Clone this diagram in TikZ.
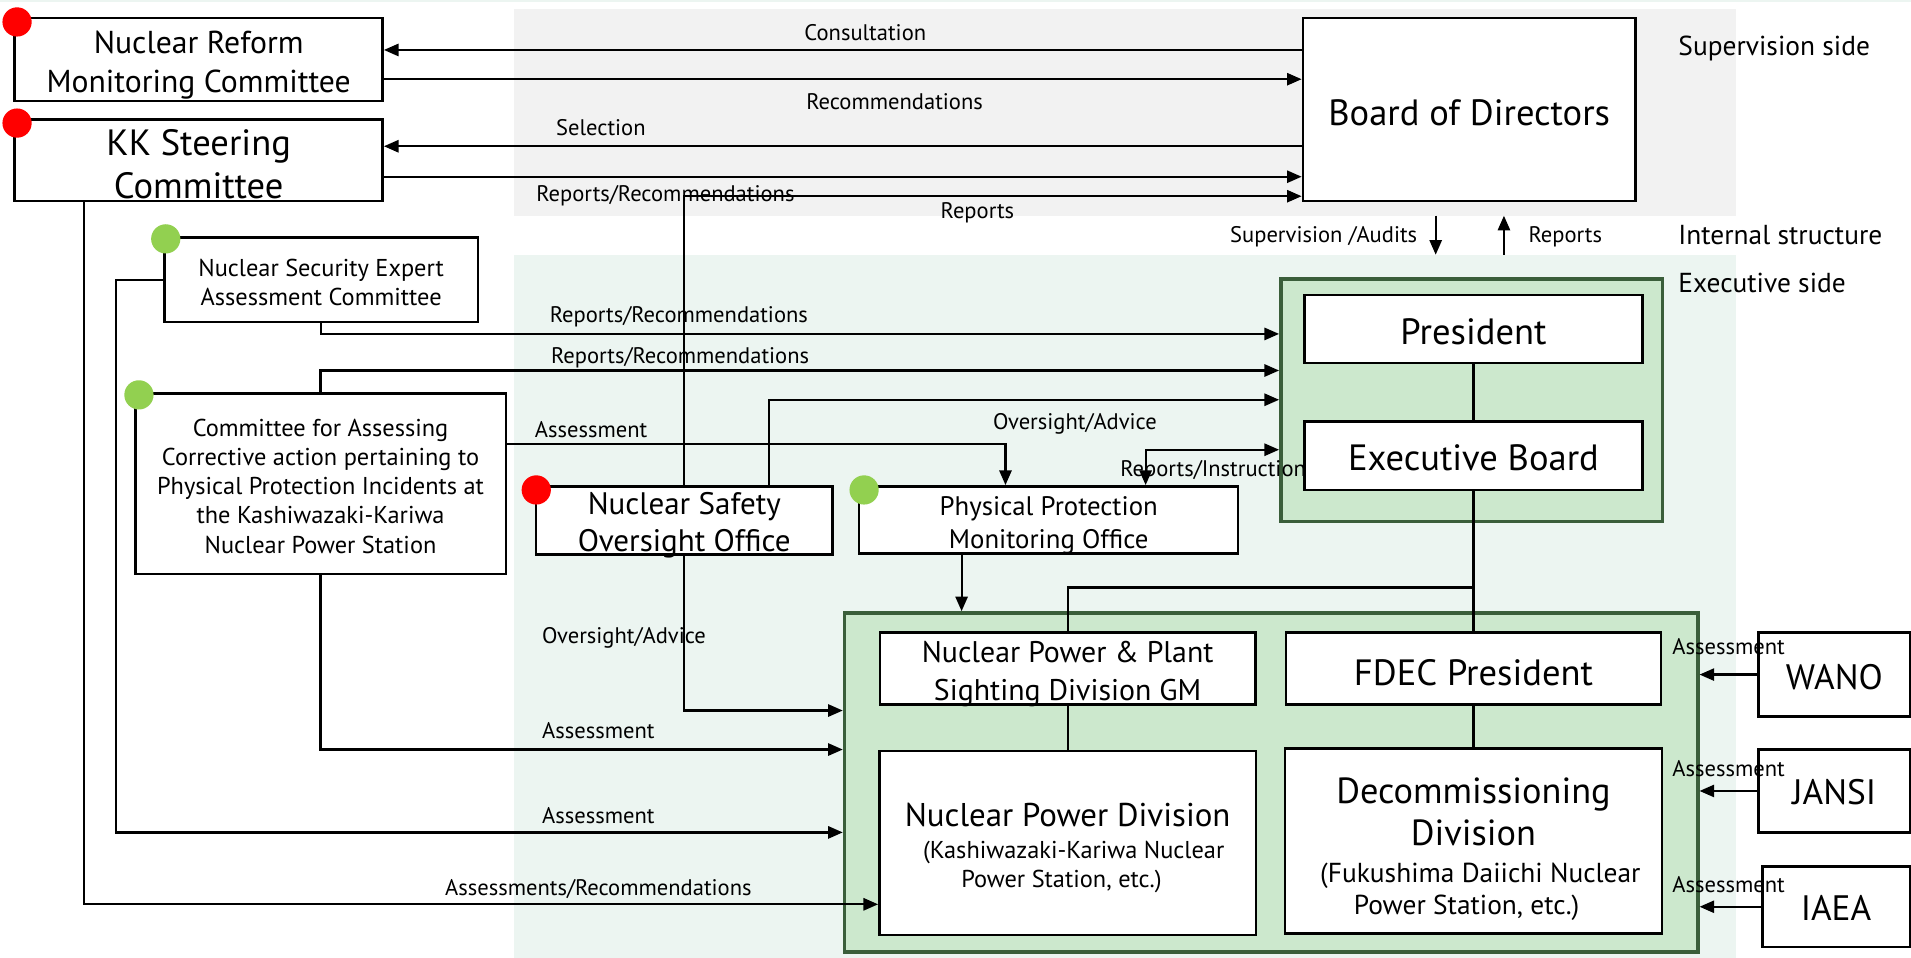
\documentclass[tikz,border=0pt]{standalone}
\usepackage{fontspec}
\setmainfont{PT Sans}
\usepackage{tikz}
\usetikzlibrary{arrows.meta}

\definecolor{supgray}{HTML}{F2F2F2}
\definecolor{exemint}{HTML}{ECF5F1}
\definecolor{grpfill}{HTML}{CCE8CD}
\definecolor{grpline}{HTML}{3A5E3A}
\definecolor{dotred}{HTML}{FF0000}
\definecolor{dotgreen}{HTML}{92D050}

\newcommand{\szlab}{\fontsize{18.5}{22}\selectfont}
\newcommand{\szside}{\fontsize{22.5}{27}\selectfont}
\newcommand{\szbig}{\fontsize{30}{36}\selectfont}

\begin{document}
\begin{tikzpicture}[x=1pt,y=-1pt,
	box/.style n args={3}{draw,line width=2pt,fill=white,inner sep=0pt,align=center,minimum width=#1pt,minimum height=#2pt,text height=#3pt,text depth=0pt},
	grp/.style 2 args={draw=grpline,line width=3pt,fill=grpfill,inner sep=0pt,minimum width=#1pt,minimum height=#2pt},
	lbl/.style={inner sep=0pt,font=\szlab,yshift=-0.5pt},
	side/.style={inner sep=0pt,anchor=west,font=\szside},
	link/.style={line width=1.8pt},
	arr/.style={link,-{Triangle[length=12pt,width=10pt]}},
	arrb/.style={link,{Triangle[length=12pt,width=10pt]}-{Triangle[length=12pt,width=10pt]}},
	dotr/.style={circle,fill=dotred,inner sep=0pt,minimum size=24pt},
	dotg/.style={circle,fill=dotgreen,inner sep=0pt,minimum size=24pt}
]
	\useasboundingbox (0,0) rectangle (1568,786);
	\fill[exemint] (0,0) rectangle (1568,1.5);
	\fill[supgray] (422,7) rectangle (1424,177);
	\fill[exemint] (422,209) rectangle (1424,786);

	\node[grp={313}{199}] (execgrp) at (1207.5,328.5) {};
	\node[grp={700}{278}] (divgrp) at (1043,642) {};
	\node[lbl,anchor=west] (lrepinst) at (919,386) {Reports/Instructions};

	% supervision side
	\node[box={302}{68}{53.3},font=\fontsize{26}{32}\selectfont] (nrmc) at (163,49) {Nuclear Reform\\Monitoring Committee};
	\node[box={302}{67}{62.9},font=\fontsize{30}{35}\selectfont] (kksc) at (163,131.5) {KK Steering\\Committee};
	\node[box={273}{150}{25.9},font=\szbig] (bod) at (1205.5,90) {Board of Directors};
	\node[dotr] (nrmcdot) at ([shift={(3,4)}]nrmc.north west) {};
	\node[dotr] (kkscdot) at ([shift={(3,4)}]kksc.north west) {};

	% committees
	\node[box={257}{69}{42.6},font=\fontsize{20}{24}\selectfont] (nseac) at (263.5,229.5) {Nuclear Security Expert\\Assessment Committee};
	\node[box={304}{148}{113.6},font=\fontsize{20}{24}\selectfont] (cacp) at (263,397) {Committee for Assessing\\Corrective action pertaining to\\Physical Protection Incidents at\\the Kashiwazaki-Kariwa\\Nuclear Power Station};
	\node[box={243}{56}{51},font=\fontsize{25.5}{30}\selectfont] (nsoo) at (561.5,427) {Nuclear Safety\\Oversight Office};
	\node[box={311}{55}{46.3},font=\fontsize{22}{27}\selectfont] (ppmo) at (860.5,426.5) {Physical Protection\\Monitoring Office};
	\node[dotg] (nseacdot) at ([shift={(2,2)}]nseac.north west) {};
	\node[dotg] (cacpdot) at ([shift={(4,2)}]cacp.north west) {};
	\node[dotr] (nsoodot) at ([shift={(1,4)}]nsoo.north west) {};
	\node[dotg] (ppmodot) at ([shift={(5,4)}]ppmo.north west) {};

	% executive side
	\node[box={277}{56}{25.9},font=\szbig] (pres) at (1209,270) {President};
	\node[box={277}{56}{23.9},font=\szbig] (exec) at (1209,374) {Executive Board};
	\node[box={308}{59}{52.5},font=\fontsize{24.5}{31}\selectfont] (gm) at (876,548.5) {Nuclear Power \& Plant\\Sighting Division GM};
	\node[box={308}{59}{27.9},font=\szbig] (fdec) at (1209,548.5) {FDEC President};
	\node[box={309}{151}{73},font=\fontsize{20}{24}\selectfont] (npd) at (876,691.5) {\fontsize{27}{32}\selectfont Nuclear Power Division\\[1.5pt]\hspace*{0.5em}(Kashiwazaki-Kariwa Nuclear\\Power Station, etc.)\hspace*{0.5em}};
	\node[box={309}{152}{121.4},font=\fontsize{22.5}{27}\selectfont] (dd) at (1209,690) {\fontsize{29.8}{36}\selectfont Decommissioning\\[6pt]\fontsize{29.8}{36}\selectfont Division\\[3.3pt]\hspace*{0.5em}(Fukushima Daiichi Nuclear\\Power Station, etc.)\hspace*{0.5em}};

	% outside bodies
	\node[box={124}{69}{24.3},font=\fontsize{29}{34}\selectfont] (wano) at (1505,553.5) {WANO};
	\node[box={124}{68}{22.3},font=\fontsize{29}{34}\selectfont] (jansi) at (1505,649) {JANSI};
	\node[box={121}{66}{22.3},font=\fontsize{29}{34}\selectfont] (iaea) at (1506.5,744) {IAEA};

	% labels
	\node[lbl] (lconsult) at (710,26) {Consultation};
	\node[lbl] (lrecom) at (734,83) {Recommendations};
	\node[lbl] (lselect) at (493,104) {Selection};
	\node[lbl] (lkkrep) at (546,160) {Reports/Recommendations};
	\node[lbl] (lrep) at (802,174) {Reports};
	\node[lbl,anchor=east] (lsupaud) at (1163,194) {Supervision /Audits};
	\node[lbl,anchor=west] (lrepup) at (1254,194) {Reports};
	\node[side] (lsupside) at (1377,40) {Supervision side};
	\node[side] (linternal) at (1377,193) {Internal structure};
	\node[side] (lexeside) at (1377,232) {Executive side};
	\node[lbl] (lnserep) at (557,259) {Reports/Recommendations};
	\node[lbl] (lcacrep) at (558,293) {Reports/Recommendations};
	\node[lbl] (lcacass) at (485,352) {Assessment};
	\node[lbl] (lovup) at (882,347) {Oversight/Advice};
	\node[lbl] (lovdown) at (512,523) {Oversight/Advice};
	\node[lbl] (lassa) at (491,599) {Assessment};
	\node[lbl] (lassb) at (491,669) {Assessment};
	\node[lbl] (lassrec) at (491,729) {Assessments/Recommendations};
	\node[lbl,anchor=west] (lwano) at (1372,530) {Assessment};
	\node[lbl,anchor=west] (ljansi) at (1372,630) {Assessment};
	\node[lbl,anchor=west] (liaea) at (1372,725) {Assessment};

	% connectors
	\draw[arr] (bod.west |- 0,41) -- (nrmc.east |- 0,41);
	\draw[arr] (nrmc.east |- 0,65) -- (bod.west |- 0,65);
	\draw[arr] (bod.west |- 0,120) -- (kksc.east |- 0,120);
	\draw[arr] (kksc.east |- 0,145) -- (bod.west |- 0,145);
	\draw[arr] (nsoo.north) |- (bod.west |- 0,161);
	\coordinate (supa) at (1178,177);
	\coordinate (supb) at (1178,209);
	\coordinate (repa) at (1234,209);
	\coordinate (repb) at (1234,177);
	\draw[arr] (supa) -- (supb);
	\draw[arr] (repa) -- (repb);
	\draw[arr] (nseac.south) |- (execgrp.west |- 0,274);
	\draw[arr] (nseac.west) -- ++(-39,0) |- (divgrp.west |- 0,683);
	\draw[arr] (cacp.north) |- (execgrp.west |- 0,304);
	\draw[arr] (cacp.east |- 0,364) -| (ppmo.north -| 825,0);
	\draw[arr] (cacp.south) |- (divgrp.west |- 0,615);
	\draw[arr] (kksc.south -| 69,0) |- (npd.west |- 0,742);
	\draw[arr] (nsoo.south) |- (divgrp.west |- 0,583);
	\draw[arr] (nsoo.north -| 631,0) |- (execgrp.west |- 0,328);
	\draw[arrb] (ppmo.north -| 940,0) |- (execgrp.west |- 0,369);
	\draw[arr] (ppmo.south -| 789,0) -- (divgrp.north -| 789,0);
	\draw[link] (pres) -- (exec);
	\draw[link] (exec) -- (fdec);
	\draw[link] (exec.south |- 0,482) -| (gm.north);
	\draw[link] (gm) -- (npd);
	\draw[link] (fdec) -- (dd);
	\draw[arr] (wano.west) -- (divgrp.east |- wano.west);
	\draw[arr] (jansi.west) -- (divgrp.east |- jansi.west);
	\draw[arr] (iaea.west) -- (divgrp.east |- iaea.west);
\end{tikzpicture}
\end{document}
